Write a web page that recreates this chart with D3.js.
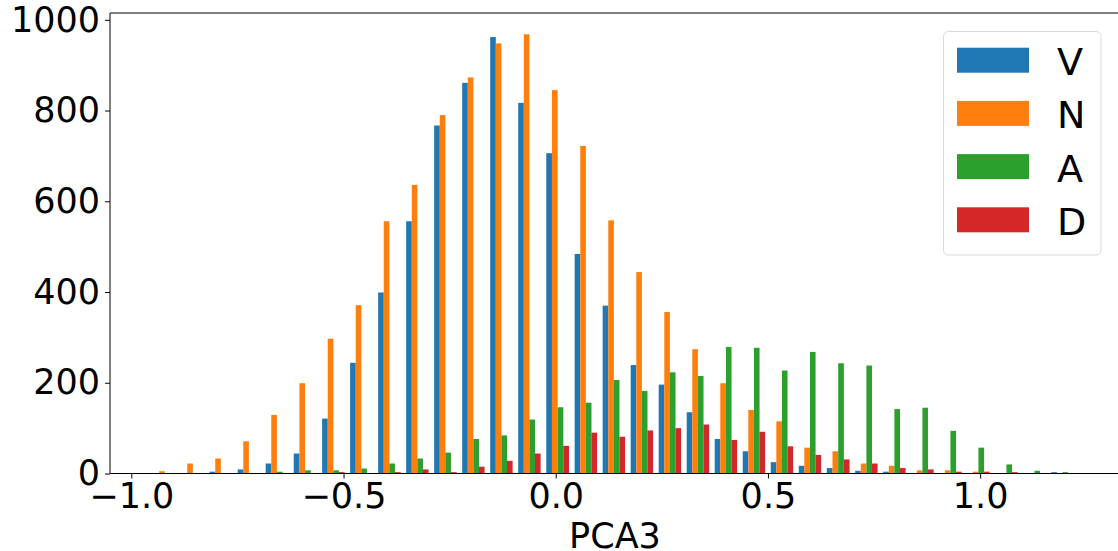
<!DOCTYPE html>
<html>
<head>
<meta charset="utf-8">
<script src="https://cdn.jsdelivr.net/npm/d3@7"></script>
<style>
  body { margin: 0; background: #fff; }
  svg { display: block; font-family: "DejaVu Sans", sans-serif; }
</style>
</head>
<body>
<svg></svg>
<script>
// Histogram bin edges (PCA3)
const binEdges = [
  -0.954, -0.888, -0.822, -0.756, -0.690, -0.624, -0.557, -0.491, -0.425,
  -0.359, -0.293, -0.227, -0.161, -0.095, -0.029, 0.038, 0.104, 0.170,
  0.236, 0.302, 0.368, 0.434, 0.500, 0.566, 0.632, 0.699, 0.765, 0.831,
  0.897, 0.963, 1.029, 1.095, 1.161, 1.227,
];

// Series names and counts per bin
const seriesNames = ["V", "N", "A", "D"];
const seriesColors = ["#1f77b4", "#ff7f0e", "#2ca02c", "#d62728"];

const countsV = [0, 0, 4, 9, 22, 44, 121, 244, 399, 556, 767, 861, 962, 817, 706, 484, 370, 239, 196, 135, 76, 49, 25, 17, 12, 6, 4, 0, 0, 0, 0, 0, 3];
const countsN = [5, 22, 33, 71, 129, 199, 297, 371, 556, 636, 790, 873, 948, 968, 845, 722, 558, 444, 356, 274, 199, 140, 115, 57, 49, 22, 17, 7, 7, 4, 0, 0, 0];
const countsA = [0, 0, 0, 0, 4, 7, 7, 11, 22, 33, 46, 76, 84, 119, 146, 156, 206, 182, 223, 215, 279, 277, 227, 268, 243, 238, 142, 145, 94, 57, 20, 6, 3];
const countsD = [0, 0, 0, 0, 0, 0, 3, 1, 3, 9, 3, 15, 28, 44, 61, 90, 81, 95, 100, 108, 74, 92, 60, 41, 31, 22, 12, 9, 4, 4, 3, 0, 0];

const allCounts = [countsV, countsN, countsA, countsD];

// Tick values
const xTicks = [-1.0, -0.5, 0.0, 0.5, 1.0];
const yTicks = [0, 200, 400, 600, 800, 1000];
const xLabel = "PCA3";

const canvas = {
  width: 1118,
  height: 551,
  left: 110,
  right: 1120,
  top: 13,
  bottom: 473.5,
};

const svg = d3.select("svg")
  .attr("width", canvas.width)
  .attr("height", canvas.height);

const xScale = d3.scaleLinear()
  .domain([-1.0502, 1.3295])
  .range([canvas.left, canvas.right]);

const yScale = d3.scaleLinear()
  .domain([0, 1015])
  .range([canvas.bottom, canvas.top]);

const minus = (s) => s.replace("-", "\u2212");

// bars
const drawBars = () => {
  const bins = d3.range(binEdges.length - 1);
  allCounts.forEach((counts, k) => {
    svg.append("g")
      .selectAll("rect")
      .data(bins)
      .enter()
      .append("rect")
      .attr("fill", seriesColors[k])
      .attr("x", (i) => {
        const x0 = xScale(binEdges[i]);
        const w = xScale(binEdges[i + 1]) - x0;
        return x0 + (0.1 + 0.2 * k) * w;
      })
      .attr("width", (i) => 0.2 * (xScale(binEdges[i + 1]) - xScale(binEdges[i])))
      .attr("y", (i) => yScale(counts[i]))
      .attr("height", (i) => yScale(0) - yScale(counts[i]));
  });
};

// axes
const drawAxes = () => {
  const xAxis = d3.axisBottom(xScale)
    .tickValues(xTicks)
    .tickFormat((d) => minus(d3.format(".1f")(d)))
    .tickSize(5)
    .tickPadding(5);

  const yAxis = d3.axisLeft(yScale)
    .tickValues(yTicks)
    .tickFormat(d3.format("d"))
    .tickSize(5)
    .tickPadding(5);

  const gx = svg.append("g")
    .attr("transform", "translate(0," + canvas.bottom + ")")
    .call(xAxis);
  const gy = svg.append("g")
    .attr("transform", "translate(" + canvas.left + ",0)")
    .call(yAxis);

  [gx, gy].forEach((g) => {
    g.select(".domain").remove();
    g.selectAll("line").attr("stroke", "#000").attr("stroke-width", 1);
    g.selectAll("text")
      .attr("fill", "#000")
      .style("font-size", "35px")
      .style("font-family", "DejaVu Sans");
  });

  // spines: left, bottom, top (right edge is outside the picture)
  svg.append("path")
    .attr("d", "M" + canvas.right + "," + canvas.top +
      "H" + canvas.left + "V" + canvas.bottom + "H" + canvas.right)
    .attr("fill", "none")
    .attr("stroke", "#000")
    .attr("stroke-width", 1);

  svg.append("text")
    .attr("x", (canvas.left + canvas.right) / 2)
    .attr("y", 548)
    .attr("text-anchor", "middle")
    .style("font-size", "35px")
    .text(xLabel);
};

// legend
const drawLegend = () => {
  const lg = svg.append("g");
  lg.append("rect")
    .attr("x", 943.5)
    .attr("y", 31.5)
    .attr("width", 157.5)
    .attr("height", 223.5)
    .attr("rx", 5)
    .attr("fill", "#fff")
    .attr("fill-opacity", 0.8)
    .attr("stroke", "#d9d9d9")
    .attr("stroke-width", 1);

  seriesNames.forEach((name, k) => {
    const y = 47.7 + k * 53.2;
    lg.append("rect")
      .attr("x", 957)
      .attr("y", y)
      .attr("width", 72)
      .attr("height", 25)
      .attr("fill", seriesColors[k]);
    lg.append("text")
      .attr("x", 1057)
      .attr("y", y + 27.5)
      .style("font-size", "38px")
      .attr("fill", "#000")
      .text(name);
  });
};

drawBars();
drawAxes();
drawLegend();
</script>
</body>
</html>
